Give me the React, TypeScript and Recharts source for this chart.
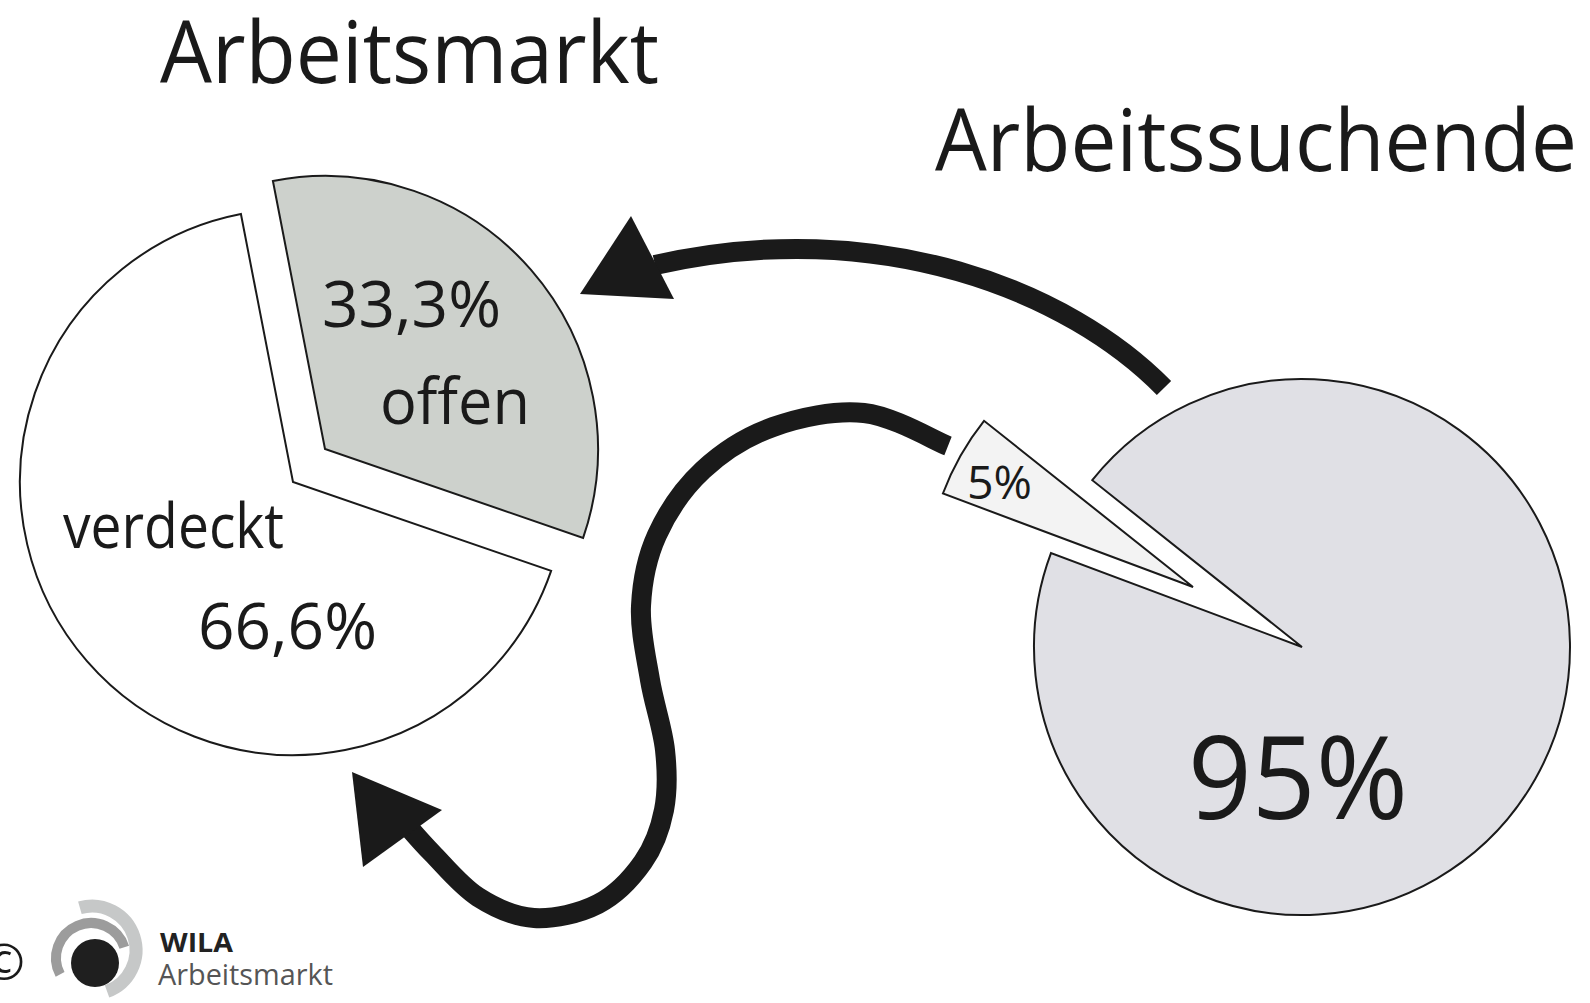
import React from 'react';
import { PieChart, Pie, Cell, Customized } from 'recharts';

// ---- data ----
const marketNames = ['verdeckt', 'offen'];
const marketValues = [66.6, 33.3];
const marketPct = ['66,6%', '33,3%'];
const seekerNames = ['Arbeitssuchende', 'in Arbeitsmarkt'];
const seekerValues = [95, 5];
const seekerPct = ['95%', '5%'];
const titles = ['Arbeitsmarkt', 'Arbeitssuchende'];
const logoTexts = ['WILA', 'Arbeitsmarkt'];

const marketData = marketNames.map((name, i) => ({ name, value: marketValues[i], pct: marketPct[i] }));
const seekerData = seekerNames.map((name, i) => ({ name, value: seekerValues[i], pct: seekerPct[i] }));

const INK = '#1a1a1a';
const FONT = '"Open Sans", "Noto Sans", sans-serif';

function smoothPath(pts: number[][]) {
  let d = `M${pts[0][0]},${pts[0][1]}`;
  for (let i = 0; i < pts.length - 1; i++) {
    const p0 = pts[i - 1] || pts[i];
    const p1 = pts[i];
    const p2 = pts[i + 1];
    const p3 = pts[i + 2] || p2;
    const c1 = [p1[0] + (p2[0] - p0[0]) / 6, p1[1] + (p2[1] - p0[1]) / 6];
    const c2 = [p2[0] - (p3[0] - p1[0]) / 6, p2[1] - (p3[1] - p1[1]) / 6];
    d += ` C${c1[0]},${c1[1]} ${c2[0]},${c2[1]} ${p2[0]},${p2[1]}`;
  }
  return d;
}

function arcPath(cx: number, cy: number, r: number, a0: number, a1: number) {
  const rad = (a: number) => (a * Math.PI) / 180;
  const x0 = cx + r * Math.cos(rad(a0));
  const y0 = cy + r * Math.sin(rad(a0));
  const x1 = cx + r * Math.cos(rad(a1));
  const y1 = cy + r * Math.sin(rad(a1));
  const large = a1 - a0 > 180 ? 1 : 0;
  return `M${x0},${y0} A${r},${r} 0 ${large} 1 ${x1},${y1}`;
}

const Label = ({ x, y, size, len, children, weight, fill }: any) => (
  <text
    x={x}
    y={y}
    fontSize={size}
    fontFamily={FONT}
    fontWeight={weight || 400}
    fill={fill || INK}
    textLength={len}
    lengthAdjust="spacingAndGlyphs"
  >
    {children}
  </text>
);

// label renderer for one visible slice of a pie; offsets are relative to the pie centre
const sliceLabel = (cx: number, cy: number, visible: number, lines: any[]) => (props: any) => {
  if (props.index !== visible) return null;
  const p = props.payload && props.payload.payload ? props.payload.payload : props.payload || {};
  return (
    <g>
      {lines.map((l, i) => (
        <Label key={i} x={cx + l.dx} y={cy + l.dy} size={l.size} len={l.len}>
          {l.key === 'pct' ? p.pct ?? props.pct : p.name ?? props.name}
        </Label>
      ))}
    </g>
  );
};

const Decorations = () => {
  const lower = [
    [948, 446], [864, 413], [773, 427], [703, 470], [657, 535], [641, 606], [650, 680],
    [665, 750], [664, 810], [643, 862], [598, 904], [534, 918], [478, 897], [432, 853], [404, 822],
  ];
  return (
    <g>
      {/* arrows */}
      <path d="M1164,388 C1070,292 880,214 655,265" fill="none" stroke={INK} strokeWidth={20} />
      <polygon points="580,294 631,216 674,299" fill={INK} />
      <path d={smoothPath(lower)} fill="none" stroke={INK} strokeWidth={20} />
      <polygon points="352,772 442,810 363,867" fill={INK} />

      {/* titles */}
      <Label x={160} y={83} size={86} len={499}>{titles[0]}</Label>
      <Label x={935} y={171} size={86} len={642}>{titles[1]}</Label>

      {/* logo */}
      <text x={4} y={980} fontSize={50} fontFamily={FONT} fill={INK} textAnchor="middle">©</text>
      <path d={arcPath(92, 950, 44, -106, 70)} fill="none" stroke="#c6c8c8" strokeWidth={13} />
      <path d={arcPath(91, 958, 35, 152, 342)} fill="none" stroke="#9c9c9c" strokeWidth={10} />
      <circle cx={95} cy={963} r={24} fill="#1f1f1f" />
      <Label x={160} y={952} size={27} len={73} weight={700} fill="#222">{logoTexts[0]}</Label>
      <Label x={158} y={985} size={29} len={175} fill="#555">{logoTexts[1]}</Label>
    </g>
  );
};

export default function App() {
  return (
    <div style={{ position: 'absolute', left: 0, top: 0, width: 1590, height: 1003, background: '#fff' }}>
      <PieChart width={1590} height={1003} margin={{ top: 0, right: 0, bottom: 0, left: 0 }}>
        <Customized component={Decorations} />
        {/* Arbeitsmarkt: verdeckt */}
        <Pie
          data={marketData}
          dataKey="value"
          nameKey="name"
          cx={293}
          cy={482}
          outerRadius={273}
          startAngle={101}
          endAngle={461}
          isAnimationActive={false}
          labelLine={false}
          label={sliceLabel(293, 482, 0, [
            { key: 'name', dx: -230, dy: 66, size: 62, len: 221 },
            { key: 'pct', dx: -95, dy: 167, size: 64, len: 179 },
          ])}
        >
          <Cell fill="#ffffff" stroke={INK} strokeWidth={2} />
          <Cell fill="none" stroke="none" />
        </Pie>
        {/* Arbeitsmarkt: offen (exploded) */}
        <Pie
          data={marketData}
          dataKey="value"
          nameKey="name"
          cx={325}
          cy={449}
          outerRadius={273}
          startAngle={101}
          endAngle={461}
          isAnimationActive={false}
          labelLine={false}
          label={sliceLabel(325, 449, 1, [
            { key: 'pct', dx: -3, dy: -122, size: 64, len: 179 },
            { key: 'name', dx: 55, dy: -25, size: 64, len: 150 },
          ])}
        >
          <Cell fill="none" stroke="none" />
          <Cell fill="#cdd1cc" stroke={INK} strokeWidth={2} />
        </Pie>
        {/* Arbeitssuchende: 95% */}
        <Pie
          data={seekerData}
          dataKey="value"
          nameKey="name"
          cx={1302}
          cy={647}
          outerRadius={268}
          startAngle={159.5}
          endAngle={519.5}
          isAnimationActive={false}
          labelLine={false}
          label={sliceLabel(1302, 647, 0, [{ key: 'pct', dx: -114, dy: 172, size: 116, len: 220 }])}
        >
          <Cell fill="#e0e0e5" stroke={INK} strokeWidth={2} />
          <Cell fill="none" stroke="none" />
        </Pie>
        {/* Arbeitssuchende: 5% (exploded) */}
        <Pie
          data={seekerData}
          dataKey="value"
          nameKey="name"
          cx={1193}
          cy={587}
          outerRadius={267}
          startAngle={159.5}
          endAngle={519.5}
          isAnimationActive={false}
          labelLine={false}
          label={sliceLabel(1193, 587, 1, [{ key: 'pct', dx: -226, dy: -88, size: 46, len: 65 }])}
        >
          <Cell fill="none" stroke="none" />
          <Cell fill="#f3f3f3" stroke={INK} strokeWidth={2} />
        </Pie>
      </PieChart>
    </div>
  );
}
